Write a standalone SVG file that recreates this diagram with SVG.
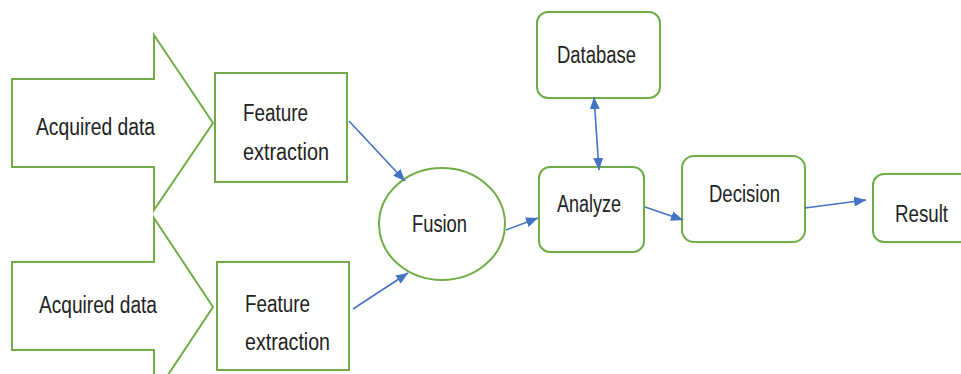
<svg xmlns="http://www.w3.org/2000/svg" width="961" height="374" viewBox="0 0 961 374">
<style>
.shape{fill:#fff;stroke:#70AD47;stroke-width:2}
.conn{stroke:#4472C4;stroke-width:1.6;fill:none}
.t{font-family:"Liberation Sans",Arial,sans-serif;font-size:23px;fill:#222}
</style>
<defs>
<marker id="ah" viewBox="0 0 12 10" refX="12" refY="5" markerWidth="12" markerHeight="10" markerUnits="userSpaceOnUse" orient="auto-start-reverse">
<path d="M0,0 L12,5 L0,10 Z" fill="#4472C4"/>
</marker>
</defs>
<rect width="961" height="374" fill="#fff"/>
<g id="acq1">
<polygon class="shape" points="12,79 154,79 154,35 213,123 154,210 154,167 12,167"/>
<text class="t" x="36" y="135" textLength="119" lengthAdjust="spacingAndGlyphs">Acquired data</text>
</g>
<g id="acq2">
<polygon class="shape" points="12,262 154,262 154,218 213,307 154,396 154,350 12,350"/>
<text class="t" x="39" y="313" textLength="118" lengthAdjust="spacingAndGlyphs">Acquired data</text>
</g>
<g id="feat1">
<rect class="shape" x="215" y="73" width="132" height="109"/>
<text class="t" x="243" y="121" textLength="65" lengthAdjust="spacingAndGlyphs">Feature</text>
<text class="t" x="243" y="160" textLength="86" lengthAdjust="spacingAndGlyphs">extraction</text>
</g>
<g id="feat2">
<rect class="shape" x="217" y="262" width="132" height="108"/>
<text class="t" x="245" y="312" textLength="65" lengthAdjust="spacingAndGlyphs">Feature</text>
<text class="t" x="245" y="350" textLength="85" lengthAdjust="spacingAndGlyphs">extraction</text>
</g>
<g id="fusion">
<ellipse class="shape" cx="442" cy="224" rx="63" ry="56"/>
<text class="t" x="412" y="232" textLength="55" lengthAdjust="spacingAndGlyphs">Fusion</text>
</g>
<g id="database">
<rect class="shape" x="537" y="12" width="123" height="86" rx="11"/>
<text class="t" x="557" y="63" textLength="79" lengthAdjust="spacingAndGlyphs">Database</text>
</g>
<g id="analyze">
<rect class="shape" x="539" y="167" width="105" height="85" rx="11"/>
<text class="t" x="557" y="212" textLength="64" lengthAdjust="spacingAndGlyphs">Analyze</text>
</g>
<g id="decision">
<rect class="shape" x="682" y="156" width="123" height="86" rx="12"/>
<text class="t" x="709" y="202" textLength="71" lengthAdjust="spacingAndGlyphs">Decision</text>
</g>
<g id="result">
<rect class="shape" x="873" y="174" width="110" height="68" rx="11"/>
<text class="t" x="895" y="222" textLength="53" lengthAdjust="spacingAndGlyphs">Result</text>
</g>
<g id="connectors">
<line class="conn" x1="349" y1="121" x2="405" y2="181" marker-end="url(#ah)"/>
<line class="conn" x1="353" y1="309" x2="408" y2="273" marker-end="url(#ah)"/>
<line class="conn" x1="506" y1="230" x2="538" y2="218" marker-end="url(#ah)"/>
<line class="conn" x1="594" y1="97" x2="599" y2="170" marker-start="url(#ah)" marker-end="url(#ah)"/>
<line class="conn" x1="645" y1="207" x2="683" y2="220" marker-end="url(#ah)"/>
<line class="conn" x1="805" y1="208" x2="866" y2="200" marker-end="url(#ah)"/>
</g>
</svg>
